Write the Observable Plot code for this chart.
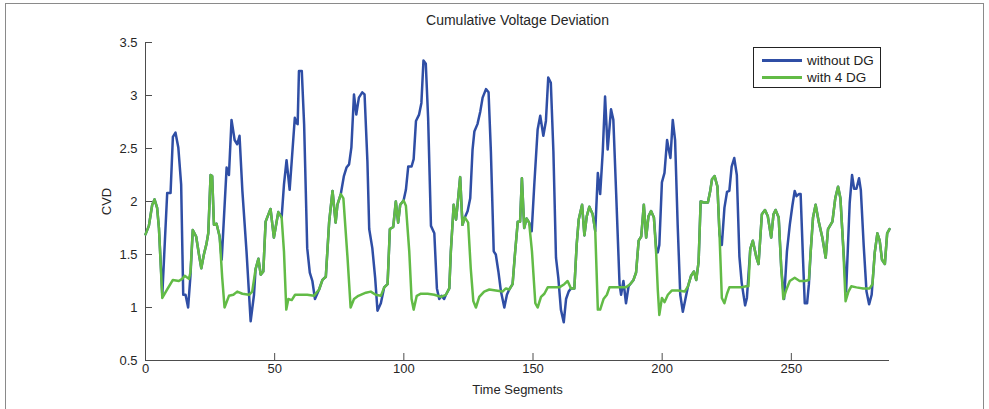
<!DOCTYPE html>
<html>
<head>
<meta charset="utf-8">
<script src="https://cdn.jsdelivr.net/npm/d3@7"></script>
<script src="https://cdn.jsdelivr.net/npm/@observablehq/plot@0.6"></script>
<style>
  html, body { margin: 0; padding: 0; background: #fff; }
  #wrap { position: relative; width: 989px; height: 409px; overflow: hidden; font-family: "Liberation Sans", Arial, Helvetica, sans-serif; }
  #frame { position: absolute; left: 5px; top: 3px; width: 979px; height: 420px; border-top: 1px solid #8a8a8a; border-left: 1px solid #8a8a8a; border-right: 1px solid #8a8a8a; box-sizing: border-box; }
  #legend { position: absolute; left: 753px; top: 47px; width: 128px; height: 41px; border: 1px solid #222; background: #fff; box-sizing: border-box; font-size: 13.5px; color: #222; }
  .row { position: absolute; left: 0; height: 16px; display: flex; align-items: center; }
  .sw { width: 40px; height: 0; border-top: 3px solid; margin-left: 8px; margin-right: 5px; }
</style>
</head>
<body>
<div id="wrap">
  <div id="chart"></div>
  <div id="frame"></div>
  <div id="legend"></div>
</div>
<script>
// Series names and colours
const seriesNames = ["without DG", "with 4 DG"];
const seriesColors = ["#2f4ea5", "#62bb46"];

// x-axis and y-axis ticks
const xTicks = [0, 50, 100, 150, 200, 250];
const yTicks = [0.5, 1, 1.5, 2, 2.5, 3, 3.5];

// "with 4 DG" : time segment and CVD values
const withDG_t = [0,1.3,2.6,3.5,4.5,5.2,6.5,8.4,10.6,12.9,14.2,15.2,16.8,17.4,18.3,19.6,20.7,21.6,22.6,23.6,24.3,25.2,25.8,26.5,27.5,28.7,29.7,30.6,32.3,34.0,35.5,37.5,40.1,41.3,42.6,43.7,44.6,45.6,46.5,48.4,49.7,51.4,52.7,53.6,54.5,55.3,56.6,57.9,60.1,62.6,65.2,67.2,68.5,69.8,71.1,72.4,73.6,74.3,75.6,76.6,78.2,79.4,80.7,82.4,85.3,87.2,89.1,91.1,92.4,93.7,94.6,95.9,96.9,97.8,98.6,99.9,100.8,102.1,103.0,103.8,105.0,106.6,109.2,111.8,114.4,116.3,117.6,118.2,119.3,120.2,120.8,121.8,122.7,123.6,124.9,125.9,126.9,127.9,129.2,131.1,133.1,135.6,138.2,139.5,140.8,142.1,143.0,144.1,145.0,145.7,146.6,147.5,148.5,149.6,150.9,151.8,153.1,154.4,155.7,157.6,160.2,162.1,163.4,164.7,166.0,166.9,167.7,169.0,169.9,170.8,171.8,173.1,174.1,175.1,176.0,177.3,178.6,179.6,181.5,184.1,186.0,187.6,188.9,189.9,190.9,191.9,192.9,193.8,194.7,195.7,196.8,197.7,198.3,198.9,199.9,200.9,202.2,203.7,206.1,208.7,210.0,211.2,212.3,213.2,214.1,214.9,216.2,217.7,218.6,219.3,220.3,221.4,222.2,223.1,224.1,225.1,226.0,228.0,230.6,232.5,233.4,234.1,235.1,236.4,237.3,238.6,239.8,240.9,242.2,243.1,243.9,245.1,246.1,246.9,248.1,249.4,251.3,253.2,255.2,256.8,257.5,258.4,259.4,260.6,262.0,263.3,264.2,265.9,267.0,268.1,269.0,270.0,271.0,272.1,273.2,275.2,277.8,280.3,281.4,282.3,283.3,284.2,285.1,286.2,287.1,288];
const withDG_v = [1.69,1.77,1.97,2.02,1.94,1.75,1.09,1.17,1.26,1.25,1.27,1.30,1.27,1.33,1.73,1.67,1.50,1.37,1.50,1.60,1.70,2.25,2.24,1.78,1.79,1.67,1.28,1.00,1.11,1.12,1.15,1.13,1.12,1.15,1.36,1.46,1.31,1.34,1.81,1.93,1.66,1.90,1.85,1.53,0.98,1.08,1.07,1.12,1.12,1.12,1.11,1.17,1.26,1.29,1.81,2.10,1.80,1.97,2.07,2.03,1.47,1.00,1.08,1.11,1.14,1.15,1.12,1.11,1.19,1.22,1.74,1.76,2.00,1.80,1.97,2.01,1.96,1.53,1.08,0.98,1.11,1.13,1.13,1.12,1.10,1.12,1.18,1.53,1.97,1.83,1.97,2.23,1.78,1.85,1.80,1.37,1.06,1.00,1.10,1.15,1.17,1.16,1.15,1.18,1.17,1.22,1.50,1.81,1.81,2.22,1.75,1.84,1.80,1.53,1.04,1.00,1.10,1.13,1.19,1.19,1.19,1.22,1.25,1.18,1.18,1.59,1.83,1.97,1.68,1.86,1.95,1.88,1.72,0.98,0.98,1.08,1.12,1.19,1.19,1.19,1.19,1.22,1.26,1.33,1.63,1.67,1.97,1.66,1.86,1.91,1.85,1.50,1.17,0.93,1.09,1.05,1.12,1.16,1.16,1.15,1.20,1.30,1.34,1.26,1.43,2.00,1.99,1.99,2.10,2.21,2.24,2.14,1.69,1.09,1.04,1.13,1.19,1.19,1.19,1.20,1.20,1.55,1.63,1.48,1.41,1.88,1.92,1.86,1.66,1.88,1.92,1.85,1.37,1.08,1.17,1.25,1.28,1.25,1.25,1.26,1.53,1.85,1.97,1.81,1.66,1.47,1.74,1.81,2.03,2.14,2.03,1.61,1.06,1.15,1.20,1.19,1.18,1.18,1.22,1.52,1.70,1.63,1.45,1.41,1.70,1.74];

// "without DG" : time segment and CVD values
const withoutDG_t = [0,1.3,2.6,3.5,4.5,5.2,6.5,8.4,9.7,10.6,11.6,12.7,13.8,14.6,15.5,16.5,17.4,18.3,19.6,20.7,21.6,22.6,23.6,24.3,25.2,25.8,26.5,27.5,28.7,29.5,31.4,32.3,33.3,34.5,35.5,36.4,37.5,39.1,40.7,42.0,42.6,43.7,44.6,45.6,46.5,48.4,49.7,51.4,52.7,53.6,54.6,55.8,56.6,57.8,58.4,58.9,59.4,60.5,61.4,62.6,63.6,64.6,65.6,67.2,68.5,69.8,71.1,72.4,73.6,74.3,75.6,76.8,77.8,78.8,79.7,80.7,81.6,82.6,83.9,84.8,85.9,86.6,87.8,88.9,89.8,91.1,92.4,93.7,94.6,95.9,96.9,97.8,98.6,99.9,100.8,101.7,103.0,103.8,104.7,105.9,106.8,107.6,108.5,109.4,110.5,111.8,112.8,113.7,114.6,115.6,116.3,117.6,118.2,119.3,120.2,120.8,121.8,122.7,123.6,124.7,125.7,126.6,127.3,128.5,129.6,130.5,131.8,132.8,133.7,134.8,135.6,136.6,137.6,138.9,139.9,140.8,142.1,143.0,144.1,145.0,145.7,146.6,147.5,148.5,149.5,150.5,151.8,152.8,154.0,155.0,155.9,156.9,157.9,158.9,159.8,160.8,161.9,162.8,163.8,164.7,166.0,166.9,167.7,169.0,169.9,170.8,171.8,173.1,174.1,175.1,176.0,177.0,177.9,178.9,180.2,181.1,182.2,183.5,184.1,185.0,186.0,187.0,187.6,188.9,189.9,190.9,191.9,192.9,193.8,194.7,195.7,196.8,197.7,198.3,198.9,199.9,200.9,201.9,202.4,203.2,204.1,205.0,206.0,207.0,208.0,209.0,210.0,211.2,212.3,213.2,214.1,214.9,216.2,217.7,218.6,219.3,220.3,221.4,222.2,223.1,224.1,225.1,226.0,226.9,227.9,228.9,229.9,230.8,232.1,232.8,234.1,235.1,236.4,237.3,238.6,239.8,240.9,242.2,243.1,243.9,245.1,246.1,247.2,248.3,249.4,250.4,251.3,252.0,252.9,253.6,254.5,255.2,256.1,256.8,257.5,258.4,259.4,260.6,262.0,263.3,264.2,265.9,267.0,268.1,269.0,270.0,271.2,272.6,273.5,274.3,275.2,276.2,276.9,278.0,279.1,280.1,281.1,282.3,283.3,284.2,285.1,286.2,287.1,288];
const withoutDG_v = [1.69,1.77,1.97,2.02,1.94,1.75,1.12,2.08,2.08,2.61,2.65,2.51,2.16,1.12,1.12,1.00,1.30,1.73,1.67,1.50,1.37,1.50,1.60,1.70,2.25,2.24,1.78,1.79,1.67,1.45,2.32,2.25,2.77,2.58,2.54,2.62,2.10,1.53,0.87,1.12,1.36,1.46,1.31,1.34,1.81,1.93,1.66,1.90,1.85,2.16,2.39,2.11,2.38,2.79,2.74,2.73,3.23,3.23,2.73,1.56,1.33,1.25,1.08,1.17,1.26,1.29,1.81,2.10,1.80,1.97,2.07,2.24,2.32,2.35,2.51,3.01,2.82,2.98,3.03,3.01,2.38,1.74,1.56,1.28,0.97,1.04,1.19,1.22,1.74,1.76,2.00,1.80,1.97,2.01,2.11,2.33,2.33,2.40,2.76,2.82,2.93,3.33,3.30,2.79,1.77,1.70,1.18,1.08,1.11,1.08,1.12,1.18,1.53,1.97,1.83,1.97,2.23,1.78,1.85,1.91,2.03,2.49,2.66,2.73,2.85,2.98,3.06,3.03,2.47,1.53,1.50,1.34,1.15,1.00,1.12,1.17,1.22,1.50,1.81,1.81,2.22,1.75,1.84,1.80,1.72,2.16,2.68,2.81,2.62,2.76,3.17,3.12,2.47,1.47,1.28,0.98,0.86,1.08,1.15,1.18,1.18,1.59,1.83,1.97,1.68,1.86,1.95,1.88,1.72,2.27,2.07,2.47,2.99,2.49,2.87,2.77,2.07,1.22,1.12,1.25,1.04,1.20,1.22,1.26,1.33,1.63,1.67,1.97,1.66,1.86,1.91,1.85,1.55,1.52,1.59,2.18,2.27,2.58,2.51,2.41,2.77,2.58,1.78,1.12,0.96,1.08,1.20,1.30,1.34,1.26,1.43,2.00,1.99,1.99,2.10,2.21,2.24,2.14,1.69,1.59,1.94,2.09,2.10,2.33,2.41,2.25,1.48,1.23,1.02,1.09,1.55,1.63,1.48,1.41,1.88,1.92,1.86,1.66,1.88,1.92,1.85,1.37,1.08,1.53,1.78,1.96,2.10,2.05,2.07,2.07,1.47,1.04,1.04,1.22,1.53,1.85,1.97,1.81,1.66,1.47,1.74,1.81,2.03,2.14,2.03,1.61,1.15,1.99,2.25,2.12,2.12,2.22,2.11,1.59,1.15,1.03,1.12,1.52,1.70,1.63,1.45,1.41,1.70,1.74];

const greenData = withDG_t.map((t, i) => ({t, v: withDG_v[i]}));
const blueData = withoutDG_t.map((t, i) => ({t, v: withoutDG_v[i]}));

const axisColor = "#4d4d4d";
const chart = Plot.plot({
  width: 989,
  height: 409,
  marginLeft: 145,
  marginRight: 100,
  marginTop: 42,
  marginBottom: 49,
  style: {fontFamily: "'Liberation Sans', Arial, Helvetica, sans-serif", fontSize: "13px", color: "#262626", background: "#fff"},
  x: {domain: [0, 288]},
  y: {domain: [0.5, 3.5]},
  marks: [
    Plot.text(["Cumulative Voltage Deviation"], {frameAnchor: "top", dy: -27, fontSize: 14, fill: "#262626"}),
    Plot.axisX({ticks: xTicks, tickSize: -7, tickPadding: 10, stroke: axisColor, label: "Time Segments", labelAnchor: "center", labelArrow: "none", labelOffset: 33}),
    Plot.axisY({ticks: yTicks, tickSize: -7, tickPadding: 15, stroke: axisColor, tickFormat: d => String(d), label: "CVD", labelAnchor: "center", labelArrow: "none", labelOffset: 44}),
    Plot.ruleX([0], {stroke: axisColor}),
    Plot.ruleY([0.5], {stroke: axisColor}),
    Plot.line(blueData, {x: "t", y: "v", stroke: seriesColors[0], strokeWidth: 2.5, strokeLinejoin: "round"}),
    Plot.line(greenData, {x: "t", y: "v", stroke: seriesColors[1], strokeWidth: 2.5, strokeLinejoin: "round"})
  ]
});
document.getElementById("chart").appendChild(chart);

const legend = document.getElementById("legend");
seriesNames.forEach((name, i) => {
  const row = document.createElement("div");
  row.className = "row";
  row.style.top = (4 + i * 17) + "px";
  const sw = document.createElement("div");
  sw.className = "sw";
  sw.style.borderTopColor = seriesColors[i];
  const tx = document.createElement("span");
  tx.textContent = name;
  row.appendChild(sw);
  row.appendChild(tx);
  legend.appendChild(row);
});
</script>
</body>
</html>
